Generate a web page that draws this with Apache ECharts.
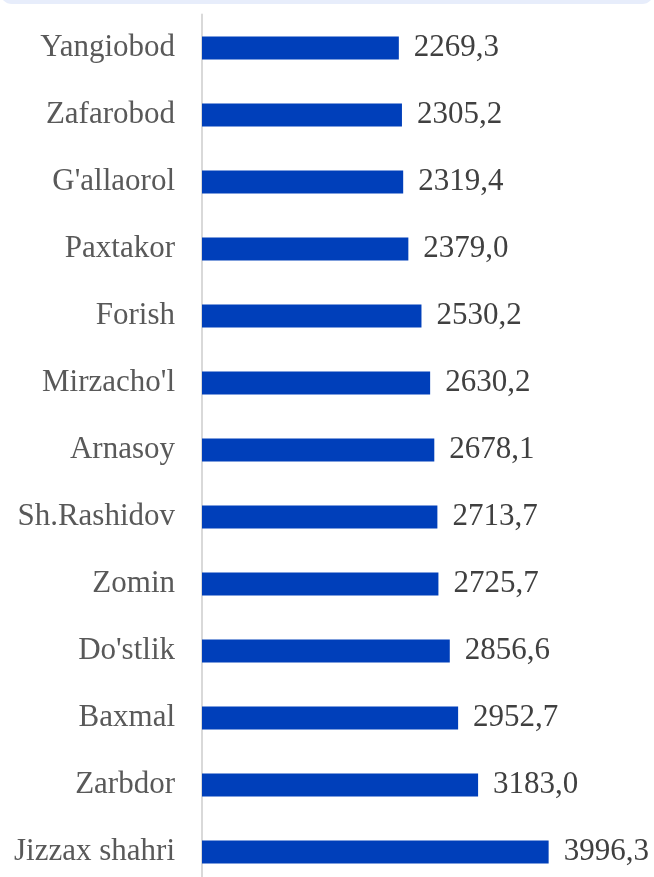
<!DOCTYPE html>
<html><head><meta charset="utf-8">
<script src="https://cdn.jsdelivr.net/npm/echarts@6/dist/echarts.min.js"></script>
<style>html,body{margin:0;padding:0;background:#fff}#c{width:654px;height:877px}</style>
</head><body><div id="c"></div>
<script>
var categories = ["Yangiobod","Zafarobod","G'allaorol","Paxtakor","Forish","Mirzacho'l","Arnasoy","Sh.Rashidov","Zomin","Do'stlik","Baxmal","Zarbdor","Jizzax shahri"];
var values = [2269.3,2305.2,2319.4,2379.0,2530.2,2630.2,2678.1,2713.7,2725.7,2856.6,2952.7,3183.0,3996.3];
var chart = echarts.init(document.getElementById('c'));
chart.setOption({
  animation:false,
  graphic:[{type:'rect',left:0,top:-20,shape:{width:654,height:24,r:12},style:{fill:'#e7edfb'}}],
  grid:{left:202,top:14.5,width:433.7,height:871,outerBoundsMode:'none',containLabel:false},
  xAxis:{type:'value',min:0,max:5000,show:false},
  yAxis:{type:'category',data:categories,inverse:true,
    axisLine:{show:true,lineStyle:{color:'#d9d9d9',width:2}},
    axisTick:{show:false},
    axisLabel:{margin:27,color:'#595959',fontFamily:'Liberation Serif',fontSize:31}},
  series:[{type:'bar',data:values,barWidth:23,itemStyle:{color:'#003fba'},
    label:{show:true,position:'right',distance:15,color:'#404040',fontFamily:'Liberation Serif',fontSize:31,
      formatter:function(p){return p.value.toFixed(1).replace('.',',');}}}]
});
</script></body></html>
